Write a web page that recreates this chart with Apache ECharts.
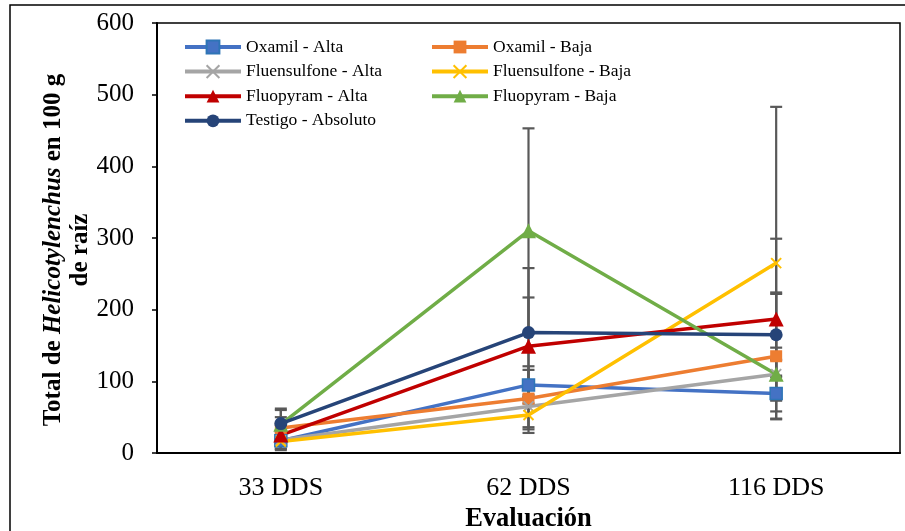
<!DOCTYPE html>
<html>
<head>
<meta charset="utf-8">
<script src="https://cdn.jsdelivr.net/npm/echarts@6/dist/echarts.min.js"></script>
<style>
  html, body { margin: 0; padding: 0; background: #fff; }
  #chart { width: 905px; height: 531px; }
</style>
</head>
<body>
<div id="chart"></div>
<script>
// Evaluation dates (days after sowing)
const categories = ['33 DDS', '62 DDS', '116 DDS'];
const yTicks = [0, 100, 200, 300, 400, 500, 600];

// Mean counts per treatment
const oxamilAlta = [17, 95, 83];
const oxamilBaja = [35, 76, 135];
const fluensulfoneAlta = [18, 65, 110];
const fluensulfoneBaja = [16, 53, 265];
const fluopyramAlta = [25, 149, 187];
const fluopyramBaja = [40, 310, 110];
const testigoAbsoluto = [41, 168, 165];

// Error (± value) per treatment
const errOxamilAlta = [13, 26, 25];
const errOxamilBaja = [15, 40, 87];
const errFluensulfoneAlta = [12, 32, 20];
const errFluensulfoneBaja = [10, 25, 218];
const errFluopyramAlta = [14, 68, 112];
const errFluopyramBaja = [20, 143, 37];
const errTestigo = [21, 90, 59];

const FONT = 'Liberation Serif';
const xMark = 'path://M0,0L10,10M10,0L0,10';

const seriesDefs = [
  { name: 'Oxamil - Alta', data: oxamilAlta, err: errOxamilAlta, color: '#4472C4', symbol: 'rect', size: 12, border: '#2E75B6' },
  { name: 'Oxamil - Baja', data: oxamilBaja, err: errOxamilBaja, color: '#ED7D31', symbol: 'rect', size: 12 },
  { name: 'Fluensulfone - Alta', data: fluensulfoneAlta, err: errFluensulfoneAlta, color: '#A5A5A5', symbol: xMark, size: 10, cross: true },
  { name: 'Fluensulfone - Baja', data: fluensulfoneBaja, err: errFluensulfoneBaja, color: '#FFC000', symbol: xMark, size: 10, cross: true },
  { name: 'Fluopyram - Alta', data: fluopyramAlta, err: errFluopyramAlta, color: '#C00000', symbol: 'triangle', size: 15 },
  { name: 'Fluopyram - Baja', data: fluopyramBaja, err: errFluopyramBaja, color: '#70AD47', symbol: 'triangle', size: 15 },
  { name: 'Testigo - Absoluto', data: testigoAbsoluto, err: errTestigo, color: '#264478', symbol: 'circle', size: 13 }
];

const series = [];

// Error bars with caps
seriesDefs.forEach(function (d) {
  series.push({
    type: 'custom',
    name: d.name + ' err',
    z: 1,
    silent: true,
    data: d.data.map(function (v, i) { return [i, v - d.err[i], v + d.err[i]]; }),
    renderItem: function (params, api) {
      const lo = api.coord([api.value(0), api.value(1)]);
      const hi = api.coord([api.value(0), api.value(2)]);
      const cap = 6;
      const st = { stroke: '#595959', lineWidth: 2.2 };
      return {
        type: 'group',
        children: [
          { type: 'line', shape: { x1: lo[0], y1: lo[1], x2: hi[0], y2: hi[1] }, style: st },
          { type: 'line', shape: { x1: lo[0] - cap, y1: lo[1], x2: lo[0] + cap, y2: lo[1] }, style: st },
          { type: 'line', shape: { x1: hi[0] - cap, y1: hi[1], x2: hi[0] + cap, y2: hi[1] }, style: st }
        ]
      };
    }
  });
});

// Lines with markers
seriesDefs.forEach(function (d) {
  series.push({
    type: 'line',
    name: d.name,
    z: 2,
    data: d.data,
    symbol: d.symbol,
    symbolSize: d.size,
    showAllSymbol: true,
    lineStyle: { color: d.color, width: 3.5 },
    itemStyle: d.cross
      ? { color: d.color, borderColor: d.color, borderWidth: 2 }
      : { color: d.color, borderColor: d.border || d.color, borderWidth: d.border ? 1.5 : 0 },
    emphasis: { disabled: true }
  });
});

const legendText = { fontFamily: FONT, fontSize: 17.5, color: '#000' };
const legendCommon = {
  orient: 'vertical', top: 33,
  itemWidth: 56, itemHeight: 16, itemGap: 6.6,
  textStyle: legendText, selectedMode: false,
  lineStyle: { width: 4 }
};

const option = {
  animation: false,
  backgroundColor: '#fff',
  grid: {
    left: 157, right: 5, top: 23, bottom: 78,
    containLabel: false,
    outerBoundsMode: 'none',
    show: true, borderColor: '#000', borderWidth: 1.5
  },
  legend: [
    Object.assign({
      data: ['Oxamil - Alta', 'Fluensulfone - Alta', 'Fluopyram - Alta', 'Testigo - Absoluto'],
      left: 178
    }, legendCommon),
    Object.assign({
      data: ['Oxamil - Baja', 'Fluensulfone - Baja', 'Fluopyram - Baja'],
      left: 425
    }, legendCommon)
  ],
  xAxis: {
    type: 'category',
    data: categories,
    boundaryGap: true,
    axisLine: { lineStyle: { color: '#000', width: 2 } },
    axisTick: { show: false },
    axisLabel: { fontFamily: FONT, fontSize: 26, color: '#000', margin: 22 },
    name: 'Evaluación',
    nameLocation: 'middle',
    nameGap: 51,
    nameTextStyle: { fontFamily: FONT, fontSize: 26.5, fontWeight: 'bold', color: '#000' }
  },
  yAxis: {
    type: 'value',
    min: yTicks[0], max: yTicks[yTicks.length - 1], interval: 100,
    splitLine: { show: false },
    axisLine: { show: true, lineStyle: { color: '#000', width: 2 } },
    axisTick: { show: true, inside: false, length: 5, lineStyle: { color: '#000', width: 1.5 } },
    axisLabel: { fontFamily: FONT, fontSize: 25, color: '#000', margin: 23 }
  },
  graphic: [
    {
      type: 'rect',
      shape: { x: 10, y: 5, width: 1200, height: 1200 },
      style: { fill: 'none', stroke: '#000', lineWidth: 1.5 },
      z: -1
    },
    {
      type: 'text',
      x: 67, y: 250,
      rotation: Math.PI / 2,
      style: {
        text: '{b|Total de }{bi|Helicotylenchus}{b| en 100 g}\n{b|de raíz}',
        align: 'center',
        verticalAlign: 'middle',
        rich: {
          b: { fontFamily: FONT, fontSize: 25, fontWeight: 'bold', fill: '#000', lineHeight: 27 },
          bi: { fontFamily: FONT, fontSize: 25, fontWeight: 'bold', fontStyle: 'italic', fill: '#000', lineHeight: 27 }
        }
      }
    }
  ],
  series: series
};

const chart = echarts.init(document.getElementById('chart'), null, { renderer: 'canvas' });
chart.setOption(option);
</script>
</body>
</html>
